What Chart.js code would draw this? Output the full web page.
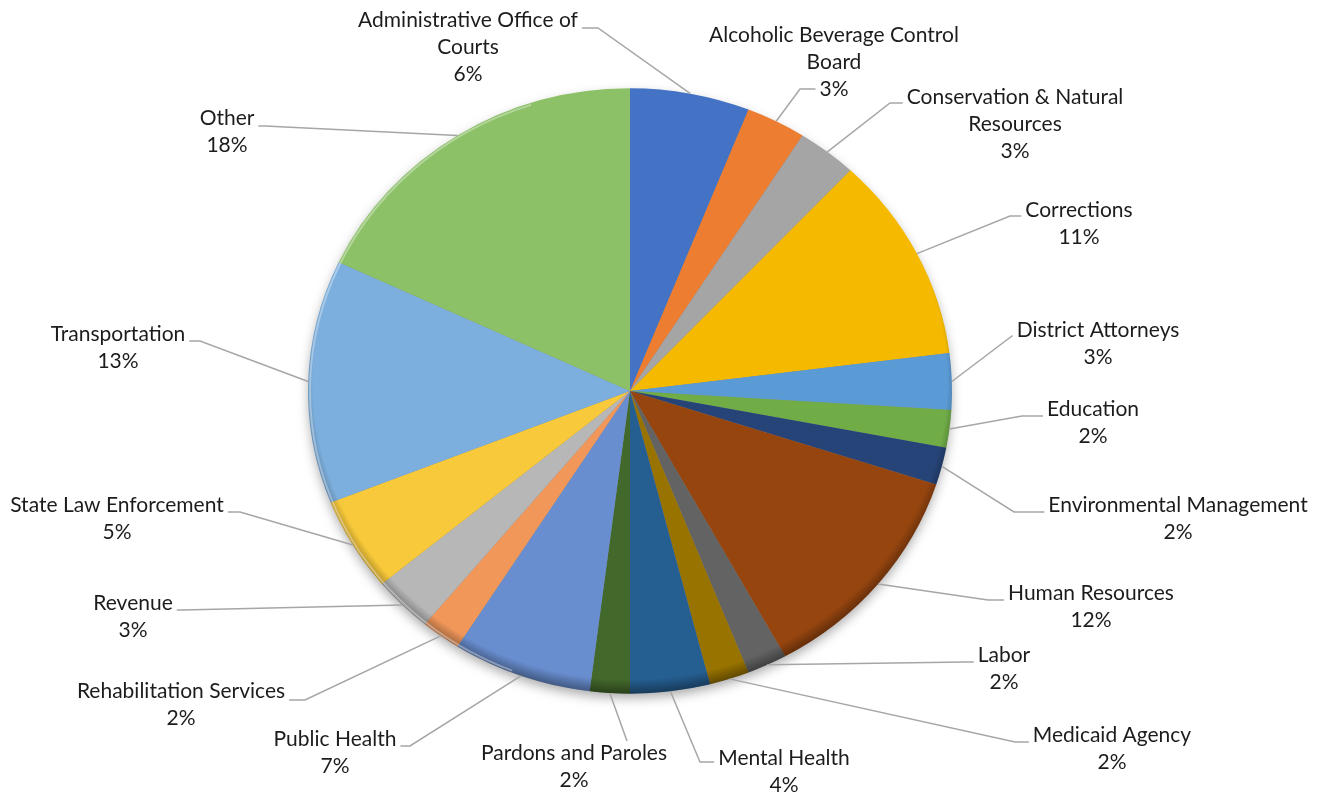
<!DOCTYPE html>
<html>
<head>
<meta charset="utf-8">
<script src="https://cdn.jsdelivr.net/npm/chart.js@4.4.1/dist/chart.umd.min.js"></script>
<style>
  html, body { margin: 0; padding: 0; background: #fff; }
  #wrap { width: 1333px; height: 796px; }
</style>
</head>
<body>
<div id="wrap"><canvas id="pie01" width="1333" height="796"></canvas></div>
<script>
// share of state spending by agency (percent)
const agencies = [
    'Administrative Office of Courts',
    'Alcoholic Beverage Control Board',
    'Conservation & Natural Resources',
    'Corrections',
    'District Attorneys',
    'Education',
    'Environmental Management',
    'Human Resources',
    'Labor',
    'Medicaid Agency',
    'Mental Health',
    'Pardons and Paroles',
    'Public Health',
    'Rehabilitation Services',
    'Revenue',
    'State Law Enforcement',
    'Transportation',
    'Other',
];
const shares = [6, 3, 3, 11, 3, 2, 2, 12, 2, 2, 4, 2, 7, 2, 3, 5, 13, 18];
const sliceColors = [
    '#4472C4', '#ED7D31', '#A5A5A5', '#F5BA00', '#5B9BD5', '#70AD47',
    '#264478', '#96450F', '#636363', '#997300', '#255E91', '#43682B',
    '#698ED0', '#F1975A', '#B7B7B7', '#F8C93A', '#7CAFDD', '#8CC168',
];

// label placement: text centre x, first line y, elbow of the leader line, wrap width
const labelLayout = [
    { x: 468, y: 20, ex: 598, ey: 28, wrap: 240 },
    { x: 834, y: 35, ex: 800, ey: 89, wrap: 265 },
    { x: 1015, y: 97, ex: 890, ey: 103, wrap: 240 },
    { x: 1079, y: 210, ex: 1010, ey: 216 },
    { x: 1098, y: 330, ex: 1012, ey: 336 },
    { x: 1093, y: 409, ex: 1022, ey: 416 },
    { x: 1178, y: 505, ex: 1014, ey: 512 },
    { x: 1091, y: 593, ex: 988, ey: 600 },
    { x: 1004, y: 655, ex: 966, ey: 662 },
    { x: 1112, y: 735, ex: 1015, ey: 742 },
    { x: 784, y: 758, ex: 700, ey: 762 },
    { x: 574, y: 753, ex: 627, ey: 741 },
    { x: 335, y: 739, ex: 410, ey: 746 },
    { x: 181, y: 691, ex: 305, ey: 700 },
    { x: 133, y: 603, ex: 182, ey: 610 },
    { x: 117, y: 505, ex: 240, ey: 512 },
    { x: 118, y: 334, ex: 200, ey: 341 },
    { x: 227, y: 118, ex: 265, ey: 126 },
];

const TILT = 0.94;        // vertical squash of the pie
const LINE_H = 27;
const LABEL_FONT = '21px Lato, "Open Sans", sans-serif';
const TEXT_COLOR = '#1c1c1c';
const LEADER_COLOR = '#A6A6A6';

function wrapText(ctx, text, maxWidth) {
    if (!maxWidth) return [text];
    const words = text.split(' ');
    const lines = [];
    let cur = '';
    words.forEach((w) => {
        const test = cur ? cur + ' ' + w : w;
        if (cur && ctx.measureText(test).width > maxWidth) {
            lines.push(cur);
            cur = w;
        } else {
            cur = test;
        }
    });
    if (cur) lines.push(cur);
    return lines;
}

// squashes the pie into a slight ellipse, with a drop shadow, a darker lower rim
// and a thin highlight on the left edge
const tiltedPie = {
    id: 'tiltedPie',
    beforeDatasetsDraw(chart) {
        const { x, y, outerRadius } = chart.getDatasetMeta(0).data[0];
        const ctx = chart.ctx;
        ctx.save();
        ctx.translate(x, y);
        ctx.scale(1, TILT);
        ctx.translate(-x, -y);

        ctx.save();
        ctx.shadowColor = 'rgba(0,0,0,0.35)';
        ctx.shadowBlur = 12;
        ctx.shadowOffsetY = 5;
        ctx.beginPath();
        ctx.arc(x, y, outerRadius - 1, 0, Math.PI * 2);
        ctx.fillStyle = '#888';
        ctx.fill();
        ctx.restore();
    },
    afterDatasetsDraw(chart) {
        const { x, y, outerRadius } = chart.getDatasetMeta(0).data[0];
        const ctx = chart.ctx;
        ctx.save();
        ctx.beginPath();
        ctx.arc(x, y, outerRadius, 0, Math.PI * 2);
        ctx.clip();
        const shift = 10;
        const rOut = outerRadius + shift;
        const g = ctx.createRadialGradient(x, y - shift, 0, x, y - shift, rOut);
        g.addColorStop(0, 'rgba(0,0,0,0)');
        g.addColorStop((outerRadius - 5) / rOut, 'rgba(0,0,0,0)');
        g.addColorStop(1, 'rgba(0,0,0,0.38)');
        ctx.fillStyle = g;
        ctx.fillRect(x - rOut, y - rOut, rOut * 2, rOut * 2);

        ctx.beginPath();
        ctx.arc(x, y, outerRadius - 2, Math.PI * 0.62, Math.PI * 1.4);
        ctx.strokeStyle = 'rgba(255,255,255,0.35)';
        ctx.lineWidth = 2;
        ctx.stroke();
        ctx.restore();
        ctx.restore();
    },
};

// outside labels with leader lines
const outsideLabels = {
    id: 'outsideLabels',
    afterDraw(chart) {
        const ctx = chart.ctx;
        const arcs = chart.getDatasetMeta(0).data;
        const values = chart.data.datasets[0].data;
        ctx.save();
        ctx.font = LABEL_FONT;
        ctx.textAlign = 'center';
        ctx.textBaseline = 'middle';
        arcs.forEach((arc, i) => {
            const lay = labelLayout[i];
            const lines = wrapText(ctx, chart.data.labels[i], lay.wrap);
            lines.push(`${values[i]}%`);

            // find the text edge nearest the elbow
            let best = 0;
            lines.forEach((l, k) => {
                if (Math.abs(lay.y + k * LINE_H - lay.ey) < Math.abs(lay.y + best * LINE_H - lay.ey)) best = k;
            });
            const half = ctx.measureText(lines[best]).width / 2;
            let sx = lay.ex;
            if (lay.ex < lay.x - half) sx = lay.x - half - 4;
            else if (lay.ex > lay.x + half) sx = lay.x + half + 4;

            const mid = (arc.startAngle + arc.endAngle) / 2;
            const px = arc.x + arc.outerRadius * Math.cos(mid);
            const py = arc.y + arc.outerRadius * Math.sin(mid) * TILT;

            ctx.beginPath();
            ctx.moveTo(px, py);
            ctx.lineTo(lay.ex, lay.ey);
            ctx.lineTo(sx, lay.ey);
            ctx.strokeStyle = LEADER_COLOR;
            ctx.lineWidth = 1.5;
            ctx.stroke();

            ctx.fillStyle = TEXT_COLOR;
            lines.forEach((l, k) => ctx.fillText(l, lay.x, lay.y + k * LINE_H));
        });
        ctx.restore();
    },
};

const ctx = document.getElementById('pie01').getContext('2d');
const chart = new Chart(ctx, {
    type: 'pie',
    data: {
        labels: agencies,
        datasets: [
            {
                data: shares,
                backgroundColor: sliceColors,
                borderWidth: 0,
            },
        ],
    },
    options: {
        responsive: false,
        animation: false,
        radius: 322,
        layout: {
            padding: { left: 0, right: 73, top: 69, bottom: 83 },
        },
        plugins: {
            legend: { display: false },
            tooltip: { enabled: false },
        },
    },
    plugins: [tiltedPie, outsideLabels],
});
</script>
</body>
</html>
